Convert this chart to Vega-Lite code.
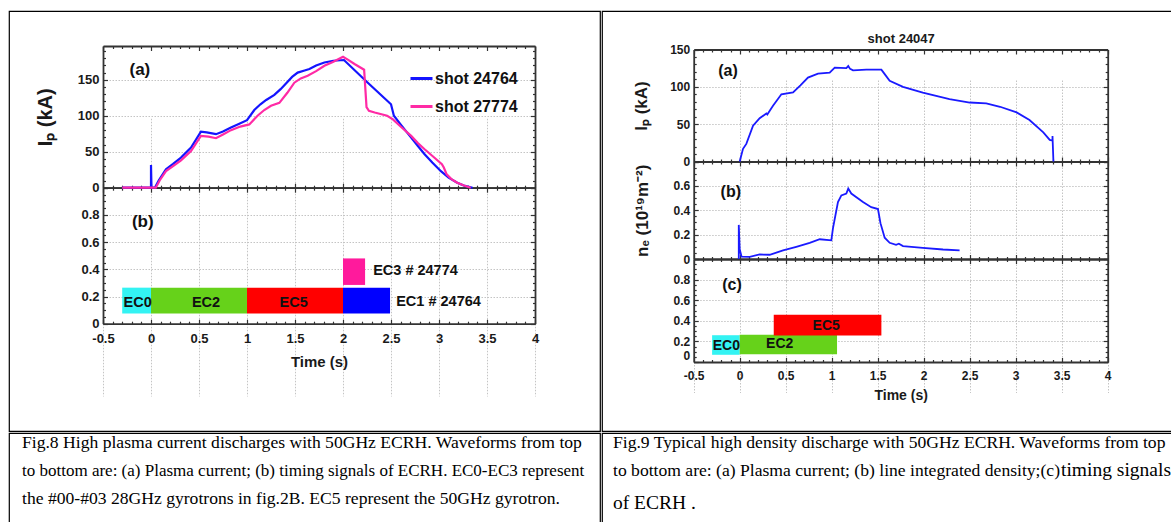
{
  "$schema": "https://vega.github.io/schema/vega-lite/v6.json",
  "background": "white",
  "padding": {"left": 8, "top": 10, "right": 0, "bottom": 0},
  "config": {
    "view": {"stroke": "#000000", "strokeWidth": 1.2},
    "font": "Liberation Sans",
    "axis": {"domainColor": "#333333", "domainWidth": 1.8, "tickColor": "#333333", "tickWidth": 1.2, "labelColor": "#1a1a1a", "labelFont": "Liberation Sans", "labelFontWeight": "bold", "titleFont": "Liberation Sans", "titleFontWeight": "bold", "titleColor": "#1a1a1a", "gridColor": "#c4c4c4", "gridDash": [1.5, 1.5], "gridWidth": 1, "labelOverlap": false, "labelFlush": false}
  },
  "datasets": {
    "ipL": [
      {"s": "shot 24764", "t": -0.3, "v": 0}, {"s": "shot 24764", "t": 0, "v": 0}, {"s": "shot 24764", "t": 0, "v": 31.6}, {"s": "shot 24764", "t": 0.005, "v": 0}, {"s": "shot 24764", "t": 0.04, "v": 0}, {"s": "shot 24764", "t": 0.08, "v": 10}, {"s": "shot 24764", "t": 0.156, "v": 25.6}, {"s": "shot 24764", "t": 0.23, "v": 33}, {"s": "shot 24764", "t": 0.3125, "v": 41.8}, {"s": "shot 24764", "t": 0.417, "v": 55.7}, {"s": "shot 24764", "t": 0.52, "v": 78}, {"s": "shot 24764", "t": 0.58, "v": 77}, {"s": "shot 24764", "t": 0.677, "v": 74.4}, {"s": "shot 24764", "t": 0.75, "v": 78}, {"s": "shot 24764", "t": 0.833, "v": 83.6}, {"s": "shot 24764", "t": 0.92, "v": 89}, {"s": "shot 24764", "t": 1.0, "v": 93.9}, {"s": "shot 24764", "t": 1.076, "v": 108}, {"s": "shot 24764", "t": 1.14, "v": 116}, {"s": "shot 24764", "t": 1.2, "v": 122}, {"s": "shot 24764", "t": 1.285, "v": 129}, {"s": "shot 24764", "t": 1.35, "v": 137}, {"s": "shot 24764", "t": 1.406, "v": 145}, {"s": "shot 24764", "t": 1.47, "v": 154}, {"s": "shot 24764", "t": 1.528, "v": 160}, {"s": "shot 24764", "t": 1.6, "v": 163}, {"s": "shot 24764", "t": 1.65, "v": 165}, {"s": "shot 24764", "t": 1.72, "v": 170}, {"s": "shot 24764", "t": 1.806, "v": 174}, {"s": "shot 24764", "t": 1.9, "v": 176.5}, {"s": "shot 24764", "t": 2.01, "v": 177.5}, {"s": "shot 24764", "t": 2.25, "v": 147}, {"s": "shot 24764", "t": 2.5, "v": 116}, {"s": "shot 24764", "t": 2.53, "v": 100}, {"s": "shot 24764", "t": 2.6, "v": 88}, {"s": "shot 24764", "t": 2.71, "v": 69.7}, {"s": "shot 24764", "t": 2.78, "v": 58}, {"s": "shot 24764", "t": 2.85, "v": 46.5}, {"s": "shot 24764", "t": 2.93, "v": 35}, {"s": "shot 24764", "t": 3.02, "v": 23}, {"s": "shot 24764", "t": 3.1, "v": 14}, {"s": "shot 24764", "t": 3.19, "v": 7}, {"s": "shot 24764", "t": 3.27, "v": 2.5}, {"s": "shot 24764", "t": 3.35, "v": 0},
      {"s": "shot 27774", "t": -0.3, "v": 0}, {"s": "shot 27774", "t": 0.05, "v": 0}, {"s": "shot 27774", "t": 0.09, "v": 10}, {"s": "shot 27774", "t": 0.156, "v": 23}, {"s": "shot 27774", "t": 0.23, "v": 30}, {"s": "shot 27774", "t": 0.3125, "v": 38}, {"s": "shot 27774", "t": 0.417, "v": 51}, {"s": "shot 27774", "t": 0.52, "v": 72}, {"s": "shot 27774", "t": 0.6, "v": 71}, {"s": "shot 27774", "t": 0.677, "v": 68.8}, {"s": "shot 27774", "t": 0.75, "v": 74}, {"s": "shot 27774", "t": 0.833, "v": 80}, {"s": "shot 27774", "t": 0.93, "v": 85}, {"s": "shot 27774", "t": 1.024, "v": 88}, {"s": "shot 27774", "t": 1.11, "v": 100}, {"s": "shot 27774", "t": 1.18, "v": 108}, {"s": "shot 27774", "t": 1.25, "v": 114}, {"s": "shot 27774", "t": 1.337, "v": 118}, {"s": "shot 27774", "t": 1.42, "v": 132}, {"s": "shot 27774", "t": 1.493, "v": 146}, {"s": "shot 27774", "t": 1.56, "v": 152}, {"s": "shot 27774", "t": 1.632, "v": 155.6}, {"s": "shot 27774", "t": 1.72, "v": 162}, {"s": "shot 27774", "t": 1.806, "v": 169.5}, {"s": "shot 27774", "t": 1.9, "v": 175}, {"s": "shot 27774", "t": 2.0, "v": 182}, {"s": "shot 27774", "t": 2.05, "v": 178}, {"s": "shot 27774", "t": 2.12, "v": 172}, {"s": "shot 27774", "t": 2.22, "v": 164}, {"s": "shot 27774", "t": 2.245, "v": 112}, {"s": "shot 27774", "t": 2.27, "v": 107}, {"s": "shot 27774", "t": 2.33, "v": 104.5}, {"s": "shot 27774", "t": 2.46, "v": 100}, {"s": "shot 27774", "t": 2.52, "v": 95}, {"s": "shot 27774", "t": 2.6, "v": 85}, {"s": "shot 27774", "t": 2.71, "v": 72}, {"s": "shot 27774", "t": 2.78, "v": 62}, {"s": "shot 27774", "t": 2.85, "v": 53.5}, {"s": "shot 27774", "t": 2.95, "v": 42}, {"s": "shot 27774", "t": 3.03, "v": 32.6}, {"s": "shot 27774", "t": 3.05, "v": 28}, {"s": "shot 27774", "t": 3.08, "v": 18.6}, {"s": "shot 27774", "t": 3.13, "v": 12}, {"s": "shot 27774", "t": 3.19, "v": 7}, {"s": "shot 27774", "t": 3.26, "v": 3}, {"s": "shot 27774", "t": 3.33, "v": 0}
    ],
    "labLa": [{"lab": "(a)", "t": -0.116, "v": 164}],
    "barsL": [
      {"ec": "EC0", "t": -0.3, "t2": 0, "v": 0.075, "v2": 0.265},
      {"ec": "EC2", "t": 0, "t2": 1, "v": 0.075, "v2": 0.265},
      {"ec": "EC5", "t": 1, "t2": 2, "v": 0.075, "v2": 0.265},
      {"ec": "EC1", "t": 2, "t2": 2.49, "v": 0.075, "v2": 0.265},
      {"ec": "EC3", "t": 2, "t2": 2.23, "v": 0.285, "v2": 0.48}
    ],
    "txtL": [
      {"lab": "EC0", "t": -0.139, "v": 0.155},
      {"lab": "EC2", "t": 0.573, "v": 0.155},
      {"lab": "EC5", "t": 1.486, "v": 0.155},
      {"lab": "EC3 # 24774", "t": 2.755, "v": 0.39},
      {"lab": "EC1 # 24764", "t": 2.995, "v": 0.16}
    ],
    "labLb": [{"lab": "(b)", "t": -0.086, "v": 0.745}],
    "ipR": [
      {"t": 0, "v": 0}, {"t": 0.036, "v": 17}, {"t": 0.072, "v": 23.6}, {"t": 0.145, "v": 48}, {"t": 0.217, "v": 58}, {"t": 0.29, "v": 64.4}, {"t": 0.3, "v": 63}, {"t": 0.362, "v": 74.7}, {"t": 0.453, "v": 90}, {"t": 0.58, "v": 92.4}, {"t": 0.66, "v": 102}, {"t": 0.742, "v": 112.4}, {"t": 0.851, "v": 117.7}, {"t": 0.978, "v": 119}, {"t": 1.033, "v": 125.7}, {"t": 1.159, "v": 125}, {"t": 1.18, "v": 127.8}, {"t": 1.2, "v": 124}, {"t": 1.232, "v": 122}, {"t": 1.376, "v": 123}, {"t": 1.54, "v": 123}, {"t": 1.57, "v": 118}, {"t": 1.63, "v": 108}, {"t": 1.775, "v": 100}, {"t": 1.99, "v": 92.4}, {"t": 2.28, "v": 83.6}, {"t": 2.5, "v": 79}, {"t": 2.68, "v": 77.8}, {"t": 2.83, "v": 73.3}, {"t": 3.01, "v": 65.8}, {"t": 3.15, "v": 55.6}, {"t": 3.3, "v": 39}, {"t": 3.37, "v": 29}, {"t": 3.4, "v": 28}, {"t": 3.4, "v": 34}, {"t": 3.41, "v": 0}
    ],
    "labRa": [{"lab": "(a)", "t": -0.127, "v": 121}],
    "neR": [
      {"t": -0.01, "v": 0}, {"t": -0.01, "v": 0.28}, {"t": 0.0, "v": 0.08}, {"t": 0.02, "v": 0.02}, {"t": 0.109, "v": 0.018}, {"t": 0.217, "v": 0.037}, {"t": 0.326, "v": 0.035}, {"t": 0.471, "v": 0.07}, {"t": 0.615, "v": 0.1}, {"t": 0.761, "v": 0.133}, {"t": 0.87, "v": 0.162}, {"t": 0.996, "v": 0.153}, {"t": 1.014, "v": 0.253}, {"t": 1.068, "v": 0.467}, {"t": 1.105, "v": 0.522}, {"t": 1.159, "v": 0.537}, {"t": 1.18, "v": 0.578}, {"t": 1.213, "v": 0.537}, {"t": 1.34, "v": 0.467}, {"t": 1.43, "v": 0.425}, {"t": 1.503, "v": 0.41}, {"t": 1.53, "v": 0.294}, {"t": 1.576, "v": 0.175}, {"t": 1.63, "v": 0.133}, {"t": 1.7, "v": 0.117}, {"t": 1.73, "v": 0.125}, {"t": 1.775, "v": 0.106}, {"t": 1.99, "v": 0.092}, {"t": 2.21, "v": 0.078}, {"t": 2.39, "v": 0.07}
    ],
    "labRb": [{"lab": "(b)", "t": -0.097, "v": 0.55}],
    "barsR": [
      {"ec": "EC0", "t": -0.3, "t2": 0, "v": 0.07, "v2": 0.26},
      {"ec": "EC2", "t": 0, "t2": 1.058, "v": 0.075, "v2": 0.265},
      {"ec": "EC5", "t": 0.37, "t2": 1.54, "v": 0.257, "v2": 0.458}
    ],
    "txtR": [
      {"lab": "EC0", "t": -0.145, "v": 0.16},
      {"lab": "EC2", "t": 0.435, "v": 0.17},
      {"lab": "EC5", "t": 0.94, "v": 0.351}
    ],
    "labRc": [{"lab": "(c)", "t": -0.084, "v": 0.75}],
    "capL": [
      {"row": 1, "txt": "Fig.8 High plasma current discharges with 50GHz ECRH. Waveforms from top"},
      {"row": 2, "txt": "to bottom are: (a) Plasma current; (b) timing signals of ECRH. EC0-EC3 represent"},
      {"row": 3, "txt": "the #00-#03 28GHz gyrotrons in fig.2B. EC5 represent the 50GHz gyrotron."}
    ],
    "capR": [
      {"row": 1, "seg": "a", "txt": "Fig.9 Typical high density discharge with 50GHz ECRH. Waveforms from top"},
      {"row": 2, "seg": "a", "txt": "to bottom are: (a) Plasma current; (b) line integrated density;(c) "},
      {"row": 2, "seg": "b", "txt": "timing signals"},
      {"row": 3, "seg": "b", "txt": "of ECRH ."}
    ]
  },
  "spacing": 0,
  "vconcat": [
    {
      "spacing": 0,
      "hconcat": [
        {
          "width": 591, "height": 420,
          "resolve": {"scale": {"x": "independent", "y": "independent", "color": "independent"}, "axis": {"x": "independent", "y": "independent"}},
          "layer": [
            {
              "resolve": {"axis": {"x": "independent", "y": "independent"}},
              "layer": [
                {
                  "data": {"name": "ipL"},
                  "mark": {"type": "line", "strokeWidth": 2.2},
                  "encoding": {
                    "x": {"field": "t", "type": "quantitative", "scale": {"domain": [-0.5, 4], "range": [94, 526], "nice": false},
                      "axis": {"orient": "bottom", "offset": -243.3, "values": [-0.5,-0.4,-0.3,-0.2,-0.1,0,0.1,0.2,0.3,0.4,0.5,0.6,0.7,0.8,0.9,1,1.1,1.2,1.3,1.4,1.5,1.6,1.7,1.8,1.9,2,2.1,2.2,2.3,2.4,2.5,2.6,2.7,2.8,2.9,3,3.1,3.2,3.3,3.4,3.5,3.6,3.7,3.8,3.9,4], "title": null, "labels": false, "grid": true,
                        "gridOpacity": {"condition": {"test": "abs(datum.value*2-round(datum.value*2))<0.001", "value": 1}, "value": 0},
                        "tickSize": {"condition": {"test": "abs(datum.value*2-round(datum.value*2))<0.001", "value": -4.5}, "value": -2.5}}},
                    "y": {"field": "v", "type": "quantitative", "scale": {"domain": [0, 197], "range": [176.7, 35], "nice": false},
                      "axis": {"orient": "left", "offset": -94, "values": [0,10,20,30,40,50,60,70,80,90,100,110,120,130,140,150,160,170,180,190], "labelExpr": "datum.value % 50 === 0 ? toString(datum.value) : ''", "labelFontSize": 13, "labelPadding": 8.5, "grid": true,
                        "gridOpacity": {"condition": {"test": "datum.value % 50 === 0", "value": 1}, "value": 0},
                        "tickSize": {"condition": {"test": "datum.value % 50 === 0", "value": -4.5}, "value": -2.5},
                        "title": "Iₚ (kA)", "titleFontSize": 20, "titlePadding": 22}},
                    "color": {"field": "s", "type": "nominal", "scale": {"domain": ["shot 24764", "shot 27774"], "range": ["#1414ff", "#ff2aa5"]},
                      "legend": {"orient": "none", "legendX": 400, "legendY": 55, "title": null, "padding": 0, "labelFontSize": 16, "labelFontWeight": "bold", "labelColor": "#111111", "labelFont": "Liberation Sans", "symbolType": "stroke", "symbolSize": 484, "symbolStrokeWidth": 3, "labelOffset": 1, "rowPadding": 7}},
                    "order": {"value": null}
                  }
                },
                {
                  "data": {"name": "labLa"},
                  "mark": {"type": "text", "fontSize": 17, "fontWeight": "bold", "color": "#111111"},
                  "encoding": {
                    "x": {"field": "t", "type": "quantitative", "scale": {"domain": [-0.5, 4], "range": [94, 526], "nice": false},
                      "axis": {"orient": "top", "offset": -35, "values": [-0.5,-0.4,-0.3,-0.2,-0.1,0,0.1,0.2,0.3,0.4,0.5,0.6,0.7,0.8,0.9,1,1.1,1.2,1.3,1.4,1.5,1.6,1.7,1.8,1.9,2,2.1,2.2,2.3,2.4,2.5,2.6,2.7,2.8,2.9,3,3.1,3.2,3.3,3.4,3.5,3.6,3.7,3.8,3.9,4], "title": null, "labels": false, "grid": false,
                        "tickSize": {"condition": {"test": "abs(datum.value*2-round(datum.value*2))<0.001", "value": -4.5}, "value": -2.5}}},
                    "y": {"field": "v", "type": "quantitative", "scale": {"domain": [0, 197], "range": [176.7, 35], "nice": false},
                      "axis": {"orient": "right", "offset": -65, "values": [0,10,20,30,40,50,60,70,80,90,100,110,120,130,140,150,160,170,180,190], "title": null, "labels": false, "grid": false,
                        "tickSize": {"condition": {"test": "datum.value % 50 === 0", "value": -4.5}, "value": -2.5}}},
                    "text": {"field": "lab"}
                  }
                }
              ]
            },
            {
              "resolve": {"axis": {"x": "independent", "y": "independent"}},
              "layer": [
                {
                  "data": {"name": "barsL"},
                  "mark": {"type": "rect"},
                  "encoding": {
                    "x": {"field": "t", "type": "quantitative", "scale": {"domain": [-0.5, 4], "range": [94, 526], "nice": false},
                      "axis": {"orient": "bottom", "offset": -107.3, "values": [-0.5,-0.4,-0.3,-0.2,-0.1,0,0.1,0.2,0.3,0.4,0.5,0.6,0.7,0.8,0.9,1,1.1,1.2,1.3,1.4,1.5,1.6,1.7,1.8,1.9,2,2.1,2.2,2.3,2.4,2.5,2.6,2.7,2.8,2.9,3,3.1,3.2,3.3,3.4,3.5,3.6,3.7,3.8,3.9,4],
                        "labelExpr": "abs(datum.value*2-round(datum.value*2))<0.001 ? toString(datum.value) : ''", "labelFontSize": 13, "labelPadding": 13, "labelFlush": false, "labelOverlap": false, "grid": true,
                        "gridOpacity": {"condition": {"test": "abs(datum.value*2-round(datum.value*2))<0.001", "value": 1}, "value": 0},
                        "tickSize": {"condition": {"test": "abs(datum.value*2-round(datum.value*2))<0.001", "value": -4.5}, "value": -2.5},
                        "title": "Time (s)", "titleFontSize": 15, "titlePadding": 7}},
                    "x2": {"field": "t2"},
                    "y": {"field": "v", "type": "quantitative", "scale": {"domain": [0, 1], "range": [312.7, 176.7], "nice": false},
                      "axis": {"orient": "left", "offset": -94, "values": [0,0.05,0.1,0.15,0.2,0.25,0.3,0.35,0.4,0.45,0.5,0.55,0.6,0.65,0.7,0.75,0.8,0.85,0.9,0.95,1],
                        "labelExpr": "abs(datum.value*5-round(datum.value*5))<0.001 && datum.value < 0.95 ? toString(datum.value) : ''", "labelFontSize": 13, "labelPadding": 8.5, "grid": true,
                        "gridOpacity": {"condition": {"test": "abs(datum.value*5-round(datum.value*5))<0.001", "value": 1}, "value": 0},
                        "tickSize": {"condition": {"test": "abs(datum.value*5-round(datum.value*5))<0.001", "value": -4.5}, "value": -2.5},
                        "title": null}},
                    "y2": {"field": "v2"},
                    "color": {"field": "ec", "type": "nominal", "scale": {"domain": ["EC0", "EC2", "EC5", "EC1", "EC3"], "range": ["#33f3f3", "#66d21a", "#ff0000", "#0000ff", "#ff1a9c"]}, "legend": null}
                  }
                },
                {
                  "data": {"name": "txtL"},
                  "mark": {"type": "text", "fontSize": 14.5, "fontWeight": "bold", "color": "#111111"},
                  "encoding": {
                    "x": {"field": "t", "type": "quantitative", "scale": {"domain": [-0.5, 4], "range": [94, 526], "nice": false}, "axis": null},
                    "y": {"field": "v", "type": "quantitative", "scale": {"domain": [0, 1], "range": [312.7, 176.7], "nice": false}, "axis": null},
                    "text": {"field": "lab"}
                  }
                },
                {
                  "data": {"name": "labLb"},
                  "mark": {"type": "text", "fontSize": 17, "fontWeight": "bold", "color": "#111111"},
                  "encoding": {
                    "x": {"field": "t", "type": "quantitative", "scale": {"domain": [-0.5, 4], "range": [94, 526], "nice": false},
                      "axis": {"orient": "top", "offset": -176.7, "values": [-0.5,-0.4,-0.3,-0.2,-0.1,0,0.1,0.2,0.3,0.4,0.5,0.6,0.7,0.8,0.9,1,1.1,1.2,1.3,1.4,1.5,1.6,1.7,1.8,1.9,2,2.1,2.2,2.3,2.4,2.5,2.6,2.7,2.8,2.9,3,3.1,3.2,3.3,3.4,3.5,3.6,3.7,3.8,3.9,4], "title": null, "labels": false, "grid": false,
                        "tickSize": {"condition": {"test": "abs(datum.value*2-round(datum.value*2))<0.001", "value": -4.5}, "value": -2.5}}},
                    "y": {"field": "v", "type": "quantitative", "scale": {"domain": [0, 1], "range": [312.7, 176.7], "nice": false},
                      "axis": {"orient": "right", "offset": -65, "values": [0,0.05,0.1,0.15,0.2,0.25,0.3,0.35,0.4,0.45,0.5,0.55,0.6,0.65,0.7,0.75,0.8,0.85,0.9,0.95,1], "title": null, "labels": false, "grid": false,
                        "tickSize": {"condition": {"test": "abs(datum.value*5-round(datum.value*5))<0.001", "value": -4.5}, "value": -2.5}}},
                    "text": {"field": "lab"}
                  }
                }
              ]
            }
          ]
        },
        {
          "width": 571, "height": 420,
          "resolve": {"scale": {"x": "independent", "y": "independent"}, "axis": {"x": "independent", "y": "independent"}},
          "layer": [
            {
              "resolve": {"axis": {"x": "independent", "y": "independent"}},
              "layer": [
                {
                  "data": {"name": "ipR"},
                  "mark": {"type": "line", "strokeWidth": 1.8, "color": "#1a1aff"},
                  "encoding": {
                    "x": {"field": "t", "type": "quantitative", "scale": {"domain": [-0.5, 4], "range": [91.7, 505.7], "nice": false},
                      "axis": {"orient": "bottom", "offset": -269.5, "values": [-0.5,-0.4,-0.3,-0.2,-0.1,0,0.1,0.2,0.3,0.4,0.5,0.6,0.7,0.8,0.9,1,1.1,1.2,1.3,1.4,1.5,1.6,1.7,1.8,1.9,2,2.1,2.2,2.3,2.4,2.5,2.6,2.7,2.8,2.9,3,3.1,3.2,3.3,3.4,3.5,3.6,3.7,3.8,3.9,4], "title": null, "labels": false, "grid": true,
                        "gridOpacity": {"condition": {"test": "abs(datum.value*2-round(datum.value*2))<0.001", "value": 1}, "value": 0},
                        "tickSize": {"condition": {"test": "abs(datum.value*2-round(datum.value*2))<0.001", "value": -4.5}, "value": -2.5}}},
                    "y": {"field": "v", "type": "quantitative", "scale": {"domain": [0, 150], "range": [150.5, 38.5], "nice": false},
                      "axis": {"orient": "left", "offset": -91.7, "values": [0,10,20,30,40,50,60,70,80,90,100,110,120,130,140,150], "labelExpr": "datum.value % 50 === 0 ? toString(datum.value) : ''", "labelFontSize": 12, "labelPadding": 8.5, "grid": true,
                        "gridOpacity": {"condition": {"test": "datum.value % 50 === 0", "value": 1}, "value": 0},
                        "tickSize": {"condition": {"test": "datum.value % 50 === 0", "value": -4.5}, "value": -2.5},
                        "title": "Iₚ (kA)", "titleFontSize": 17, "titlePadding": 19}},
                    "order": {"value": null}
                  }
                },
                {
                  "data": {"name": "labRa"},
                  "mark": {"type": "text", "fontSize": 16, "fontWeight": "bold", "color": "#111111"},
                  "encoding": {
                    "x": {"field": "t", "type": "quantitative", "scale": {"domain": [-0.5, 4], "range": [91.7, 505.7], "nice": false},
                      "axis": {"orient": "top", "offset": -38.5, "values": [-0.5,-0.4,-0.3,-0.2,-0.1,0,0.1,0.2,0.3,0.4,0.5,0.6,0.7,0.8,0.9,1,1.1,1.2,1.3,1.4,1.5,1.6,1.7,1.8,1.9,2,2.1,2.2,2.3,2.4,2.5,2.6,2.7,2.8,2.9,3,3.1,3.2,3.3,3.4,3.5,3.6,3.7,3.8,3.9,4], "labels": false, "grid": false,
                        "tickSize": {"condition": {"test": "abs(datum.value*2-round(datum.value*2))<0.001", "value": -4.5}, "value": -2.5},
                        "title": "shot 24047", "titleFontSize": 13, "titlePadding": 3}},
                    "y": {"field": "v", "type": "quantitative", "scale": {"domain": [0, 150], "range": [150.5, 38.5], "nice": false},
                      "axis": {"orient": "right", "offset": -65.3, "values": [0,10,20,30,40,50,60,70,80,90,100,110,120,130,140,150], "title": null, "labels": false, "grid": false,
                        "tickSize": {"condition": {"test": "datum.value % 50 === 0", "value": -4.5}, "value": -2.5}}},
                    "text": {"field": "lab"}
                  }
                }
              ]
            },
            {
              "resolve": {"axis": {"x": "independent", "y": "independent"}},
              "layer": [
                {
                  "data": {"name": "neR"},
                  "mark": {"type": "line", "strokeWidth": 1.8, "color": "#1a1aff"},
                  "encoding": {
                    "x": {"field": "t", "type": "quantitative", "scale": {"domain": [-0.5, 4], "range": [91.7, 505.7], "nice": false},
                      "axis": {"orient": "bottom", "offset": -172, "values": [-0.5,-0.4,-0.3,-0.2,-0.1,0,0.1,0.2,0.3,0.4,0.5,0.6,0.7,0.8,0.9,1,1.1,1.2,1.3,1.4,1.5,1.6,1.7,1.8,1.9,2,2.1,2.2,2.3,2.4,2.5,2.6,2.7,2.8,2.9,3,3.1,3.2,3.3,3.4,3.5,3.6,3.7,3.8,3.9,4], "title": null, "labels": false, "grid": true,
                        "gridOpacity": {"condition": {"test": "abs(datum.value*2-round(datum.value*2))<0.001", "value": 1}, "value": 0},
                        "tickSize": {"condition": {"test": "abs(datum.value*2-round(datum.value*2))<0.001", "value": -4.5}, "value": -2.5}}},
                    "y": {"field": "v", "type": "quantitative", "scale": {"domain": [0, 0.8], "range": [248, 150.5], "nice": false},
                      "axis": {"orient": "left", "offset": -91.7, "values": [0,0.05,0.1,0.15,0.2,0.25,0.3,0.35,0.4,0.45,0.5,0.55,0.6,0.65,0.7,0.75,0.8],
                        "labelExpr": "abs(datum.value*5-round(datum.value*5))<0.001 && datum.value < 0.75 ? toString(datum.value) : ''", "labelFontSize": 12, "labelPadding": 8.5, "grid": true,
                        "gridOpacity": {"condition": {"test": "abs(datum.value*5-round(datum.value*5))<0.001", "value": 1}, "value": 0},
                        "tickSize": {"condition": {"test": "abs(datum.value*5-round(datum.value*5))<0.001", "value": -4.5}, "value": -2.5},
                        "title": "nₑ (10¹⁹m⁻²)", "titleFontSize": 17, "titlePadding": 22}},
                    "order": {"value": null}
                  }
                },
                {
                  "data": {"name": "labRb"},
                  "mark": {"type": "text", "fontSize": 16, "fontWeight": "bold", "color": "#111111"},
                  "encoding": {
                    "x": {"field": "t", "type": "quantitative", "scale": {"domain": [-0.5, 4], "range": [91.7, 505.7], "nice": false},
                      "axis": {"orient": "top", "offset": -150.5, "values": [-0.5,-0.4,-0.3,-0.2,-0.1,0,0.1,0.2,0.3,0.4,0.5,0.6,0.7,0.8,0.9,1,1.1,1.2,1.3,1.4,1.5,1.6,1.7,1.8,1.9,2,2.1,2.2,2.3,2.4,2.5,2.6,2.7,2.8,2.9,3,3.1,3.2,3.3,3.4,3.5,3.6,3.7,3.8,3.9,4], "title": null, "labels": false, "grid": false,
                        "tickSize": {"condition": {"test": "abs(datum.value*2-round(datum.value*2))<0.001", "value": -4.5}, "value": -2.5}}},
                    "y": {"field": "v", "type": "quantitative", "scale": {"domain": [0, 0.8], "range": [248, 150.5], "nice": false},
                      "axis": {"orient": "right", "offset": -65.3, "values": [0,0.05,0.1,0.15,0.2,0.25,0.3,0.35,0.4,0.45,0.5,0.55,0.6,0.65,0.7,0.75,0.8], "title": null, "labels": false, "grid": false,
                        "tickSize": {"condition": {"test": "abs(datum.value*5-round(datum.value*5))<0.001", "value": -4.5}, "value": -2.5}}},
                    "text": {"field": "lab"}
                  }
                }
              ]
            },
            {
              "resolve": {"axis": {"x": "independent", "y": "independent"}},
              "layer": [
                {
                  "data": {"name": "barsR"},
                  "mark": {"type": "rect"},
                  "encoding": {
                    "x": {"field": "t", "type": "quantitative", "scale": {"domain": [-0.5, 4], "range": [91.7, 505.7], "nice": false},
                      "axis": {"orient": "bottom", "offset": -69, "values": [-0.5,-0.4,-0.3,-0.2,-0.1,0,0.1,0.2,0.3,0.4,0.5,0.6,0.7,0.8,0.9,1,1.1,1.2,1.3,1.4,1.5,1.6,1.7,1.8,1.9,2,2.1,2.2,2.3,2.4,2.5,2.6,2.7,2.8,2.9,3,3.1,3.2,3.3,3.4,3.5,3.6,3.7,3.8,3.9,4],
                        "labelExpr": "abs(datum.value*2-round(datum.value*2))<0.001 ? toString(datum.value) : ''", "labelFontSize": 12, "labelPadding": 12.5, "labelFlush": false, "labelOverlap": false, "grid": true,
                        "gridOpacity": {"condition": {"test": "abs(datum.value*2-round(datum.value*2))<0.001", "value": 1}, "value": 0},
                        "tickSize": {"condition": {"test": "abs(datum.value*2-round(datum.value*2))<0.001", "value": -4.5}, "value": -2.5},
                        "title": "Time (s)", "titleFontSize": 14, "titlePadding": 5}},
                    "x2": {"field": "t2"},
                    "y": {"field": "v", "type": "quantitative", "scale": {"domain": [0, 1], "range": [351, 248], "nice": false},
                      "axis": {"orient": "left", "offset": -91.7, "values": [0,0.05,0.1,0.15,0.2,0.25,0.3,0.35,0.4,0.45,0.5,0.55,0.6,0.65,0.7,0.75,0.8,0.85,0.9,0.95,1],
                        "labelExpr": "abs(datum.value*5-round(datum.value*5))<0.001 && datum.value < 0.95 ? toString(datum.value) : ''", "labelFontSize": 12, "labelPadding": 8.5, "labelBaseline": {"condition": {"test": "datum.value < 0.01", "value": "bottom"}, "value": "middle"}, "grid": true,
                        "gridOpacity": {"condition": {"test": "abs(datum.value*5-round(datum.value*5))<0.001", "value": 1}, "value": 0},
                        "tickSize": {"condition": {"test": "abs(datum.value*5-round(datum.value*5))<0.001", "value": -4.5}, "value": -2.5},
                        "title": null}},
                    "y2": {"field": "v2"},
                    "color": {"field": "ec", "type": "nominal", "scale": {"domain": ["EC0", "EC2", "EC5"], "range": ["#33f3f3", "#66d21a", "#ff0000"]}, "legend": null}
                  }
                },
                {
                  "data": {"name": "txtR"},
                  "mark": {"type": "text", "fontSize": 14, "fontWeight": "bold", "color": "#111111"},
                  "encoding": {
                    "x": {"field": "t", "type": "quantitative", "scale": {"domain": [-0.5, 4], "range": [91.7, 505.7], "nice": false}, "axis": null},
                    "y": {"field": "v", "type": "quantitative", "scale": {"domain": [0, 1], "range": [351, 248], "nice": false}, "axis": null},
                    "text": {"field": "lab"}
                  }
                },
                {
                  "data": {"name": "labRc"},
                  "mark": {"type": "text", "fontSize": 16, "fontWeight": "bold", "color": "#111111"},
                  "encoding": {
                    "x": {"field": "t", "type": "quantitative", "scale": {"domain": [-0.5, 4], "range": [91.7, 505.7], "nice": false},
                      "axis": {"orient": "top", "offset": -248, "values": [-0.5,-0.4,-0.3,-0.2,-0.1,0,0.1,0.2,0.3,0.4,0.5,0.6,0.7,0.8,0.9,1,1.1,1.2,1.3,1.4,1.5,1.6,1.7,1.8,1.9,2,2.1,2.2,2.3,2.4,2.5,2.6,2.7,2.8,2.9,3,3.1,3.2,3.3,3.4,3.5,3.6,3.7,3.8,3.9,4], "title": null, "labels": false, "grid": false,
                        "tickSize": {"condition": {"test": "abs(datum.value*2-round(datum.value*2))<0.001", "value": -4.5}, "value": -2.5}}},
                    "y": {"field": "v", "type": "quantitative", "scale": {"domain": [0, 1], "range": [351, 248], "nice": false},
                      "axis": {"orient": "right", "offset": -65.3, "values": [0,0.05,0.1,0.15,0.2,0.25,0.3,0.35,0.4,0.45,0.5,0.55,0.6,0.65,0.7,0.75,0.8,0.85,0.9,0.95,1], "title": null, "labels": false, "grid": false,
                        "tickSize": {"condition": {"test": "abs(datum.value*5-round(datum.value*5))<0.001", "value": -4.5}, "value": -2.5}}},
                    "text": {"field": "lab"}
                  }
                }
              ]
            }
          ]
        }
      ]
    },
    {
      "spacing": 0,
      "hconcat": [
        {
          "width": 591, "height": 91,
          "data": {"name": "capL"},
          "encoding": {
            "x": {"datum": 0, "type": "quantitative", "scale": {"domain": [0, 1], "range": [13, 580]}, "axis": null},
            "y": {"field": "row", "type": "quantitative", "scale": {"domain": [1, 3], "range": [15, 71]}, "axis": null},
            "text": {"field": "txt"}
          },
          "layer": [
            {
              "transform": [{"filter": "datum.row !== 2"}],
              "mark": {"type": "text", "align": "left", "baseline": "alphabetic", "font": "Liberation Serif", "fontSize": 17.6, "color": "#000000"}
            },
            {
              "transform": [{"filter": "datum.row === 2"}],
              "mark": {"type": "text", "align": "left", "baseline": "alphabetic", "font": "Liberation Serif", "fontSize": 17.0, "color": "#000000"}
            }
          ]
        },
        {
          "width": 571, "height": 91,
          "data": {"name": "capR"},
          "encoding": {
            "y": {"field": "row", "type": "quantitative", "scale": {"domain": [1, 2, 3], "range": [15, 43, 76]}, "axis": null},
            "text": {"field": "txt"}
          },
          "layer": [
            {
              "transform": [{"filter": "datum.seg === 'a'"}],
              "mark": {"type": "text", "align": "left", "baseline": "alphabetic", "font": "Liberation Serif", "fontSize": 17.6, "color": "#000000"},
              "encoding": {"x": {"datum": 0, "type": "quantitative", "scale": {"domain": [0, 1], "range": [11, 569]}, "axis": null}}
            },
            {
              "transform": [{"filter": "datum.row === 3"}],
              "mark": {"type": "text", "align": "left", "baseline": "alphabetic", "font": "Liberation Serif", "fontSize": 19.5, "color": "#000000"},
              "encoding": {"x": {"datum": 0, "type": "quantitative", "scale": {"domain": [0, 1], "range": [11, 569]}, "axis": null}}
            },
            {
              "transform": [{"filter": "datum.row === 2 && datum.seg === 'b'"}],
              "mark": {"type": "text", "align": "right", "baseline": "alphabetic", "font": "Liberation Serif", "fontSize": 19.5, "color": "#000000"},
              "encoding": {"x": {"datum": 1, "type": "quantitative", "scale": {"domain": [0, 1], "range": [11, 569]}, "axis": null}}
            }
          ]
        }
      ]
    }
  ]
}
